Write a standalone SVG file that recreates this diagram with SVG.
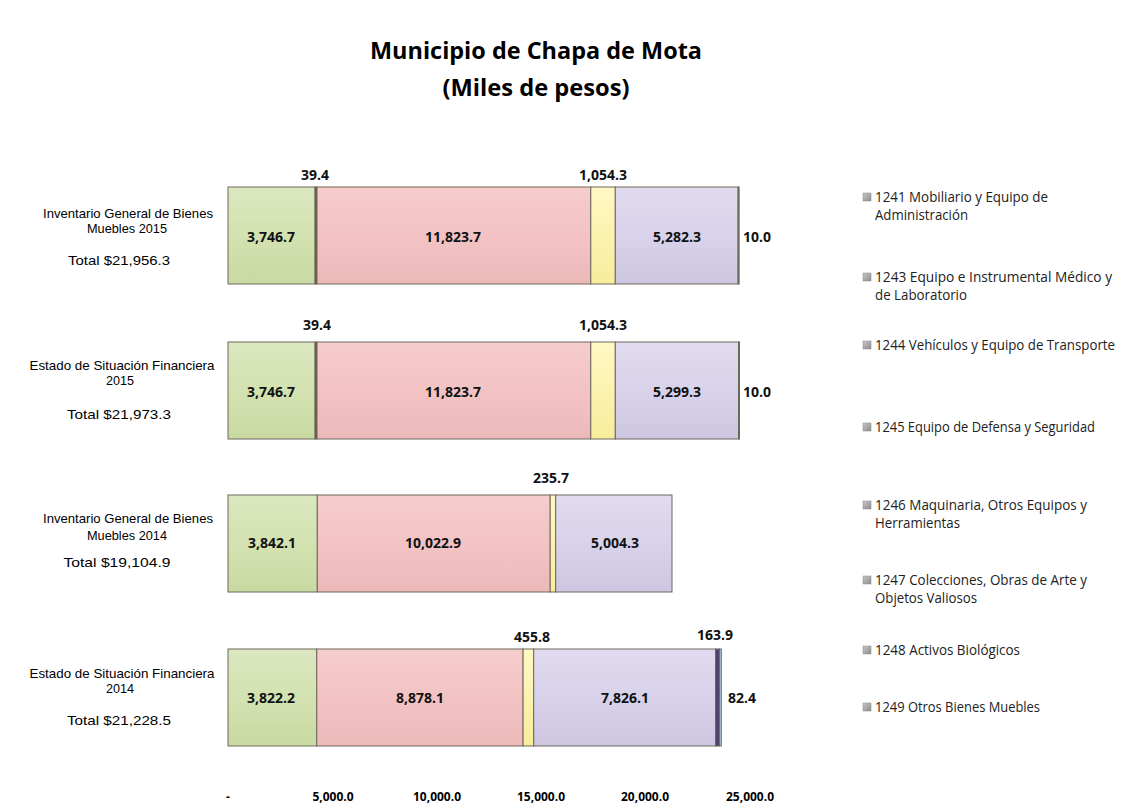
<svg xmlns="http://www.w3.org/2000/svg" width="1135" height="807" viewBox="0 0 1135 807">
<style>
.title{font-family:"Open Sans","Liberation Sans",sans-serif;font-weight:bold;font-size:24px;fill:#000;text-anchor:middle}
.cat{font-family:"Liberation Sans",Arial,sans-serif;font-size:13px;fill:#000;text-anchor:middle}
.val{font-family:"Open Sans","Liberation Sans",sans-serif;font-weight:bold;font-size:14px;fill:#111;text-anchor:middle}
.axis{font-family:"Open Sans","Liberation Sans",sans-serif;font-weight:bold;font-size:12px;fill:#000;text-anchor:middle}
.leg{font-family:"Open Sans","Liberation Sans",sans-serif;font-size:14px;fill:#222}
.seg{stroke:#6e685c;stroke-width:1}
.c1241{fill:url(#gGreen)}
.c1243{fill:#5a4a3a}
.c1244{fill:url(#gPink)}
.c1245{fill:url(#gYellow)}
.c1246{fill:url(#gPurple)}
.c1247{fill:#3f3a5a}
.c1248{fill:#4a4270}
.c1249{fill:#a8c8e8}
.mk{fill:url(#gMark);stroke:#8a8a8a;stroke-width:0.5}
</style>
<defs>
<linearGradient id="gGreen" x1="0" y1="0" x2="0" y2="1"><stop offset="0" stop-color="#dbe7c0"/><stop offset="0.5" stop-color="#d3e2b0"/><stop offset="1" stop-color="#c9d9a2"/></linearGradient>
<linearGradient id="gPink" x1="0" y1="0" x2="0" y2="1"><stop offset="0" stop-color="#f6cccc"/><stop offset="0.5" stop-color="#f3c3c3"/><stop offset="1" stop-color="#ecb9b9"/></linearGradient>
<linearGradient id="gYellow" x1="0" y1="0" x2="0" y2="1"><stop offset="0" stop-color="#fff8c4"/><stop offset="1" stop-color="#f8ec9c"/></linearGradient>
<linearGradient id="gPurple" x1="0" y1="0" x2="0" y2="1"><stop offset="0" stop-color="#e0dbf0"/><stop offset="0.5" stop-color="#d8d2ea"/><stop offset="1" stop-color="#cdc6e0"/></linearGradient>
<linearGradient id="gMark" x1="0" y1="0" x2="1" y2="1"><stop offset="0" stop-color="#c8c8c8"/><stop offset="1" stop-color="#8c8c8c"/></linearGradient>
</defs>
<rect width="1135" height="807" fill="#ffffff"/>

<g id="title">
<text class="title" x="536" y="59" textLength="332" lengthAdjust="spacingAndGlyphs">Municipio de Chapa de Mota</text>
<text class="title" x="536" y="96" textLength="187" lengthAdjust="spacingAndGlyphs">(Miles de pesos)</text>
</g>

<g id="bar-inventario-2015">
<rect class="seg c1241" x="228" y="187" width="87.1" height="97"/>
<rect class="seg c1243" x="315.1" y="187" width="1.9" height="97"/>
<rect class="seg c1244" x="317" y="187" width="273.8" height="97"/>
<rect class="seg c1245" x="590.8" y="187" width="24.5" height="97"/>
<rect class="seg c1246" x="615.3" y="187" width="122.8" height="97"/>
<rect class="seg c1247" x="738.1" y="187" width="1" height="97"/>
<text class="val" x="315" y="180">39.4</text>
<text class="val" x="603" y="180">1,054.3</text>
<text class="val" x="271" y="242">3,746.7</text>
<text class="val" x="453" y="242">11,823.7</text>
<text class="val" x="677" y="242">5,282.3</text>
<text class="val" x="757" y="242">10.0</text>
<text class="cat" x="128" y="218" textLength="170" lengthAdjust="spacingAndGlyphs">Inventario General de Bienes</text>
<text class="cat" x="127" y="233" textLength="80" lengthAdjust="spacingAndGlyphs">Muebles 2015</text>
<text class="cat" x="119" y="265" textLength="102" lengthAdjust="spacingAndGlyphs">Total $21,956.3</text>
</g>

<g id="bar-estado-2015">
<rect class="seg c1241" x="228" y="342" width="87.1" height="97"/>
<rect class="seg c1243" x="315.1" y="342" width="1.9" height="97"/>
<rect class="seg c1244" x="317" y="342" width="273.8" height="97"/>
<rect class="seg c1245" x="590.8" y="342" width="24.5" height="97"/>
<rect class="seg c1246" x="615.3" y="342" width="123.2" height="97"/>
<rect class="seg c1247" x="738.5" y="342" width="1" height="97"/>
<text class="val" x="317" y="330">39.4</text>
<text class="val" x="603" y="330">1,054.3</text>
<text class="val" x="271" y="397">3,746.7</text>
<text class="val" x="453" y="397">11,823.7</text>
<text class="val" x="677" y="397">5,299.3</text>
<text class="val" x="757" y="397">10.0</text>
<text class="cat" x="122" y="370" textLength="185" lengthAdjust="spacingAndGlyphs">Estado de Situación Financiera</text>
<text class="cat" x="120" y="385" textLength="28" lengthAdjust="spacingAndGlyphs">2015</text>
<text class="cat" x="119" y="419" textLength="104" lengthAdjust="spacingAndGlyphs">Total  $21,973.3</text>
</g>

<g id="bar-inventario-2014">
<rect class="seg c1241" x="228" y="495" width="89.3" height="97"/>
<rect class="seg c1244" x="317.3" y="495" width="232.9" height="97"/>
<rect class="seg c1245" x="550.2" y="495" width="5.5" height="97"/>
<rect class="seg c1246" x="555.7" y="495" width="116.3" height="97"/>
<text class="val" x="551" y="483">235.7</text>
<text class="val" x="272" y="548">3,842.1</text>
<text class="val" x="433" y="548">10,022.9</text>
<text class="val" x="615" y="548">5,004.3</text>
<text class="cat" x="128" y="523" textLength="170" lengthAdjust="spacingAndGlyphs">Inventario General de Bienes</text>
<text class="cat" x="127" y="540" textLength="80" lengthAdjust="spacingAndGlyphs">Muebles 2014</text>
<text class="cat" x="117" y="567" textLength="107" lengthAdjust="spacingAndGlyphs">Total $19,104.9</text>
</g>

<g id="bar-estado-2014">
<rect class="seg c1241" x="228" y="649" width="88.8" height="97"/>
<rect class="seg c1244" x="316.8" y="649" width="206.3" height="97"/>
<rect class="seg c1245" x="523.1" y="649" width="10.6" height="97"/>
<rect class="seg c1246" x="533.7" y="649" width="181.9" height="97"/>
<rect class="seg c1248" x="715.6" y="649" width="3.8" height="97"/>
<rect class="seg c1249" x="719.4" y="649" width="1.9" height="97" stroke="#7fa6cc"/>
<text class="val" x="532" y="642">455.8</text>
<text class="val" x="715" y="640">163.9</text>
<text class="val" x="271" y="703">3,822.2</text>
<text class="val" x="420" y="703">8,878.1</text>
<text class="val" x="625" y="703">7,826.1</text>
<text class="val" x="742" y="703">82.4</text>
<text class="cat" x="122" y="678" textLength="185" lengthAdjust="spacingAndGlyphs">Estado de Situación Financiera</text>
<text class="cat" x="120" y="693" textLength="28" lengthAdjust="spacingAndGlyphs">2014</text>
<text class="cat" x="119" y="725" textLength="104" lengthAdjust="spacingAndGlyphs">Total  $21,228.5</text>
</g>

<g id="axis">
<text class="axis" x="228" y="801">-</text>
<text class="axis" x="333" y="801">5,000.0</text>
<text class="axis" x="437" y="801">10,000.0</text>
<text class="axis" x="541" y="801">15,000.0</text>
<text class="axis" x="645" y="801">20,000.0</text>
<text class="axis" x="750" y="801">25,000.0</text>
</g>

<g id="legend-1241"><rect class="mk" x="863" y="193" width="8" height="8"/>
<text class="leg" x="875" y="202" textLength="173" lengthAdjust="spacingAndGlyphs">1241 Mobiliario y Equipo de</text>
<text class="leg" x="875" y="220" textLength="93" lengthAdjust="spacingAndGlyphs">Administración</text></g>
<g id="legend-1243"><rect class="mk" x="863" y="273" width="8" height="8"/>
<text class="leg" x="875" y="282" textLength="237" lengthAdjust="spacingAndGlyphs">1243 Equipo e Instrumental Médico y</text>
<text class="leg" x="875" y="300" textLength="92" lengthAdjust="spacingAndGlyphs">de Laboratorio</text></g>
<g id="legend-1244"><rect class="mk" x="863" y="341" width="8" height="8"/>
<text class="leg" x="875" y="350" textLength="240" lengthAdjust="spacingAndGlyphs">1244 Vehículos y Equipo de Transporte</text></g>
<g id="legend-1245"><rect class="mk" x="863" y="423" width="8" height="8"/>
<text class="leg" x="875" y="432" textLength="220" lengthAdjust="spacingAndGlyphs">1245 Equipo de Defensa y Seguridad</text></g>
<g id="legend-1246"><rect class="mk" x="863" y="501" width="8" height="8"/>
<text class="leg" x="875" y="510" textLength="212" lengthAdjust="spacingAndGlyphs">1246 Maquinaria, Otros Equipos y</text>
<text class="leg" x="875" y="528" textLength="85" lengthAdjust="spacingAndGlyphs">Herramientas</text></g>
<g id="legend-1247"><rect class="mk" x="863" y="576" width="8" height="8"/>
<text class="leg" x="875" y="585" textLength="212" lengthAdjust="spacingAndGlyphs">1247 Colecciones, Obras de Arte y</text>
<text class="leg" x="875" y="603" textLength="102" lengthAdjust="spacingAndGlyphs">Objetos Valiosos</text></g>
<g id="legend-1248"><rect class="mk" x="863" y="646" width="8" height="8"/>
<text class="leg" x="875" y="655" textLength="145" lengthAdjust="spacingAndGlyphs">1248 Activos Biológicos</text></g>
<g id="legend-1249"><rect class="mk" x="863" y="703" width="8" height="8"/>
<text class="leg" x="875" y="712" textLength="165" lengthAdjust="spacingAndGlyphs">1249 Otros Bienes Muebles</text></g>
</svg>
